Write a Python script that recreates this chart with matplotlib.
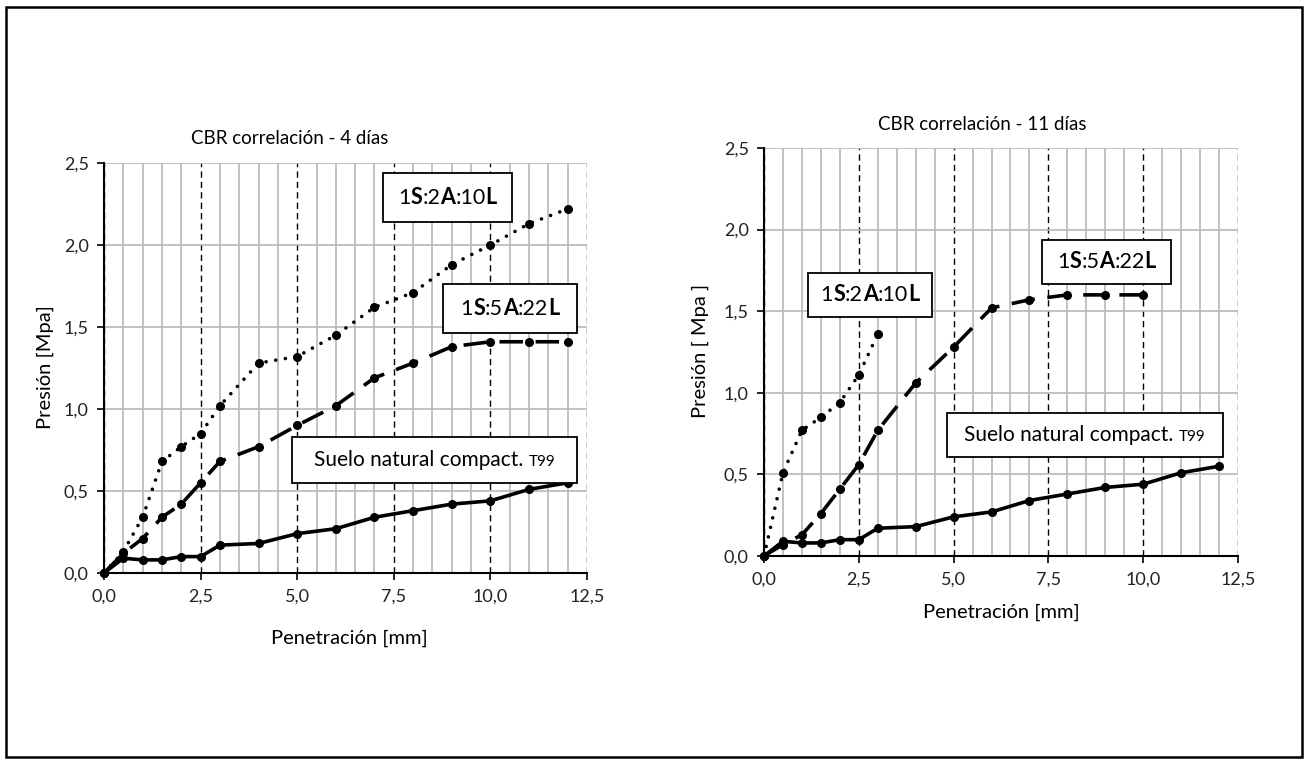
import matplotlib
matplotlib.use("Agg")
import matplotlib.pyplot as plt
from matplotlib.patches import Rectangle
from matplotlib.ticker import MultipleLocator, FuncFormatter
from matplotlib.offsetbox import TextArea, HPacker, AnnotationBbox

plt.rcParams['font.family'] = ['Lato', 'DejaVu Sans']

# ---------------- data ----------------
pen_4 = [0, 0.5, 1, 1.5, 2, 2.5, 3, 4, 5, 6, 7, 8, 9, 10, 11, 12]
p4_2A10L = [0, 0.13, 0.34, 0.68, 0.77, 0.85, 1.02, 1.28, 1.32, 1.45, 1.62, 1.71, 1.88, 2.00, 2.13, 2.22]
p4_5A22L = [0, 0.12, 0.21, 0.34, 0.42, 0.55, 0.68, 0.77, 0.90, 1.02, 1.19, 1.28, 1.38, 1.41, 1.41, 1.41]
p4_suelo = [0, 0.09, 0.08, 0.08, 0.10, 0.10, 0.17, 0.18, 0.24, 0.27, 0.34, 0.38, 0.42, 0.44, 0.51, 0.55]

pen_11_2A = [0, 0.5, 1, 1.5, 2, 2.5, 3]
p11_2A10L = [0, 0.51, 0.77, 0.85, 0.94, 1.11, 1.36]
pen_11_5A = [0, 0.5, 1, 1.5, 2, 2.5, 3, 4, 5, 6, 7, 8, 9, 10]
p11_5A22L = [0, 0.07, 0.13, 0.26, 0.41, 0.56, 0.77, 1.06, 1.28, 1.52, 1.57, 1.60, 1.60, 1.60]
pen_11_suelo = [0, 0.5, 1, 1.5, 2, 2.5, 3, 4, 5, 6, 7, 8, 9, 10, 11, 12]
p11_suelo = [0, 0.09, 0.08, 0.08, 0.10, 0.10, 0.17, 0.18, 0.24, 0.27, 0.34, 0.38, 0.42, 0.44, 0.51, 0.55]

label_2A = [("1", False), ("S", True), (":2", False), ("A", True), (":10", False), ("L", True)]
label_5A = [("1", False), ("S", True), (":5", False), ("A", True), (":22", False), ("L", True)]
label_suelo_main = "Suelo natural compact."
label_suelo_sub = "T99"

title_4 = "CBR correlación - 4 días"
title_11 = "CBR correlación - 11 días"
xlabel = "Penetración [mm]"
ylabel_4 = "Presión [Mpa]"
ylabel_11 = "Presión [ Mpa ]"

# ---------------- figure ----------------
W, H = 1308, 764
fig = plt.figure(figsize=(W / 100, H / 100), dpi=100)

def px_axes(x0, x1, ytop, ybot):
    return fig.add_axes([x0 / W, 1 - ybot / H, (x1 - x0) / W, (ybot - ytop) / H])

axL = px_axes(104, 587, 163, 573)
axR = px_axes(764, 1238, 148, 556)

comma = FuncFormatter(lambda v, p: f"{v:.1f}".replace(".", ","))

def style(ax):
    ax.set_xlim(0, 12.5)
    ax.set_ylim(0, 2.5)
    ax.xaxis.set_major_locator(MultipleLocator(2.5))
    ax.xaxis.set_minor_locator(MultipleLocator(0.5))
    ax.yaxis.set_major_locator(MultipleLocator(0.5))
    ax.xaxis.set_major_formatter(comma)
    ax.yaxis.set_major_formatter(comma)
    ax.grid(which='minor', axis='x', color='#b8b8b8', lw=1.2, zorder=0)
    ax.grid(which='major', axis='y', color='#b8b8b8', lw=1.2, zorder=0)
    ax.grid(which='major', axis='x', color='black', lw=1.0, linestyle=(0, (4.5, 3)), zorder=1)
    ax.set_axisbelow(True)
    for s in ['top', 'right']:
        ax.spines[s].set_visible(False)
    for s in ['left', 'bottom']:
        ax.spines[s].set_linewidth(1.5)
        ax.spines[s].set_color('black')
    ax.tick_params(which='major', direction='out', length=5, width=1.2, labelsize=13, pad=6)
    ax.tick_params(which='minor', length=0)
    for lab in ax.get_xticklabels() + ax.get_yticklabels():
        lab.set_color('#222222')

style(axL)
style(axR)

lw = 2.6
dot_style = dict(color='black', lw=lw, linestyle=(0, (0.01, 2.7)), dash_capstyle='round',
                 marker='o', ms=5.5, zorder=3)
dash_style = dict(color='black', lw=lw, linestyle=(0, (6.5, 3.5)), marker='o', ms=5.5, zorder=3)
solid_style = dict(color='black', lw=lw, linestyle='-', marker='o', ms=5.5, zorder=3)

axL.plot(pen_4, p4_2A10L, **dot_style)
axL.plot(pen_4, p4_5A22L, **dash_style)
axL.plot(pen_4, p4_suelo, **solid_style)

axR.plot(pen_11_2A, p11_2A10L, **dot_style)
axR.plot(pen_11_5A, p11_5A22L, **dash_style)
axR.plot(pen_11_suelo, p11_suelo, **solid_style)

for ax in (axL, axR):
    for line in ax.get_lines():
        line.set_clip_on(False)


def boxed_label(ax, x0, x1, y0, y1, parts):
    rect = Rectangle((x0, y0), x1 - x0, y1 - y0, transform=ax.transAxes, facecolor='white',
                     edgecolor='black', lw=1.3, zorder=5, clip_on=False)
    ax.add_patch(rect)
    children = [TextArea(t, textprops=dict(fontsize=s, fontweight=('bold' if b else 'normal'),
                                           color='black'))
                for t, b, s in parts]
    pack = HPacker(children=children, align='baseline', pad=0, sep=0)
    ab = AnnotationBbox(pack, ((x0 + x1) / 2, (y0 + y1) / 2), xycoords='axes fraction',
                        frameon=False, box_alignment=(0.5, 0.5), zorder=6)
    ax.add_artist(ab)


def parts_of(lbl, size=15.5):
    return [(t, b, size) for t, b in lbl]

suelo_parts = [(label_suelo_main + " ", False, 15), (label_suelo_sub, False, 11)]

boxed_label(axL, 0.578, 0.845, 0.856, 0.976, parts_of(label_2A))
boxed_label(axL, 0.702, 0.979, 0.585, 0.705, parts_of(label_5A))
boxed_label(axL, 0.389, 0.979, 0.2195, 0.332, suelo_parts)

boxed_label(axR, 0.093, 0.354, 0.586, 0.694, parts_of(label_2A))
boxed_label(axR, 0.586, 0.859, 0.667, 0.775, parts_of(label_5A))
boxed_label(axR, 0.386, 0.968, 0.243, 0.350, suelo_parts)

# titles and axis labels
def ftext(x, y, s, **kw):
    fig.text(x / W, 1 - y / H, s, ha='center', va='center', **kw)

ftext(290, 139, title_4, fontsize=13.5)
ftext(982, 125, title_11, fontsize=13.5)
ftext(349, 638, xlabel, fontsize=14.5)
ftext(1001, 612, xlabel, fontsize=14.5)
ftext(45, 367, ylabel_4, fontsize=14.5, rotation=90)
ftext(700, 351, ylabel_11, fontsize=14.5, rotation=90)

# outer frame
fig.patches.append(Rectangle((6 / W, 1 - 757 / H), (1302 - 6) / W, (757 - 7) / H,
                             transform=fig.transFigure, fill=False, edgecolor='black', lw=1.8))

fig.savefig("out.png", dpi=100)
